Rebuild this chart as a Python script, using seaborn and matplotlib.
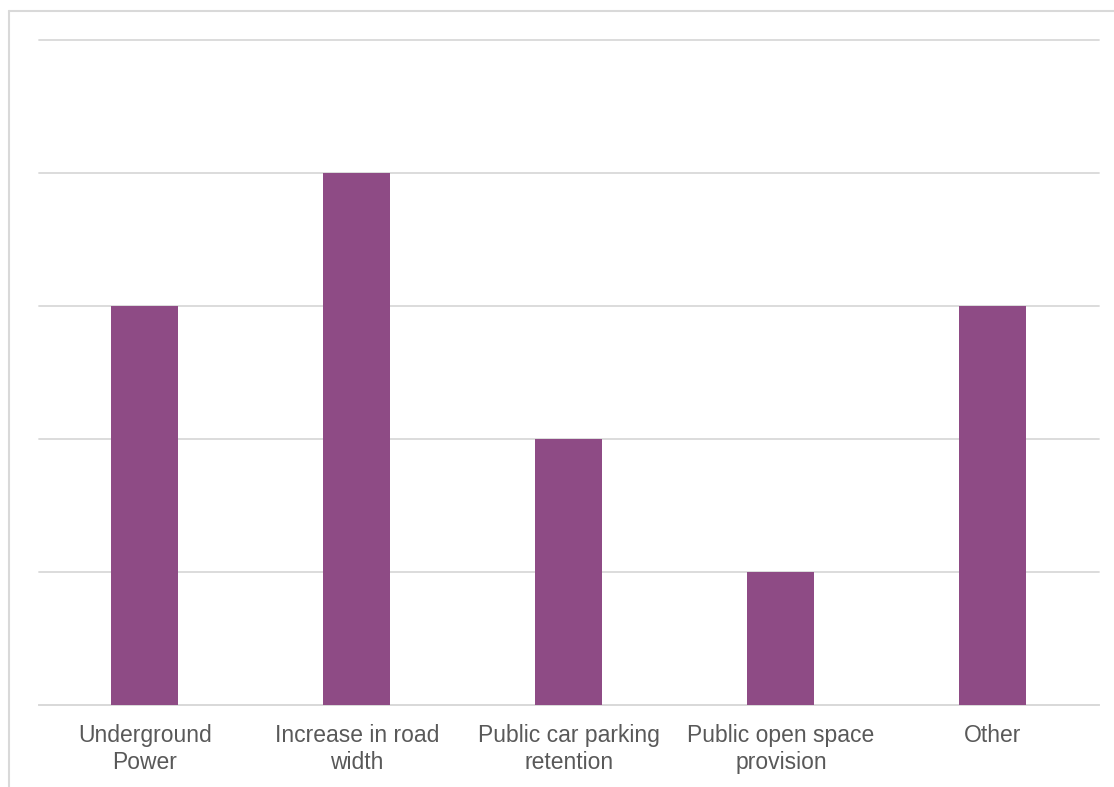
import matplotlib
matplotlib.use("Agg")
import matplotlib.pyplot as plt
from matplotlib.lines import Line2D
import seaborn as sns
import pandas as pd

categories = ["Underground\nPower", "Increase in road\nwidth", "Public car parking\nretention",
              "Public open space\nprovision", "Other"]
counts = [3, 4, 2, 1, 3]

sns.set_theme(style="white")
plt.rcParams["font.family"] = ["Liberation Sans", "DejaVu Sans"]

df = pd.DataFrame({"category": categories, "count": counts})

fig = plt.figure(figsize=(11.14, 7.87), dpi=100)
ax = fig.add_axes([0.035, 0.1042, 0.9515, 0.8450])

sns.barplot(data=df, x="category", y="count", color="#8E4B85", width=0.316,
            saturation=1, linewidth=0, edgecolor="none", ax=ax, zorder=3)

ax.set_ylim(0, 5)
ax.set_xlim(-0.5, len(categories) - 0.5)
ax.set_yticks(range(0, 6))
ax.yaxis.grid(True, color="#d9d9d9", linewidth=1.3, zorder=0, clip_on=False)
ax.set_axisbelow(True)
ax.set_yticklabels([])
ax.tick_params(axis="y", length=0)
ax.tick_params(axis="x", length=0, pad=14, labelsize=16.5, labelcolor="#595959")
ax.set_xlabel("")
ax.set_ylabel("")
for side in ["top", "right", "left"]:
    ax.spines[side].set_visible(False)
ax.spines["bottom"].set_color("#d9d9d9")
ax.spines["bottom"].set_linewidth(1.3)

# outer chart frame
fig.add_artist(Line2D([9 / 1114, 1], [1 - 11 / 787, 1 - 11 / 787], color="#d9d9d9",
                      linewidth=1.5, transform=fig.transFigure))
fig.add_artist(Line2D([9 / 1114, 9 / 1114], [0, 1 - 11 / 787], color="#d9d9d9",
                      linewidth=1.5, transform=fig.transFigure))

fig.savefig("out.png", dpi=100)
